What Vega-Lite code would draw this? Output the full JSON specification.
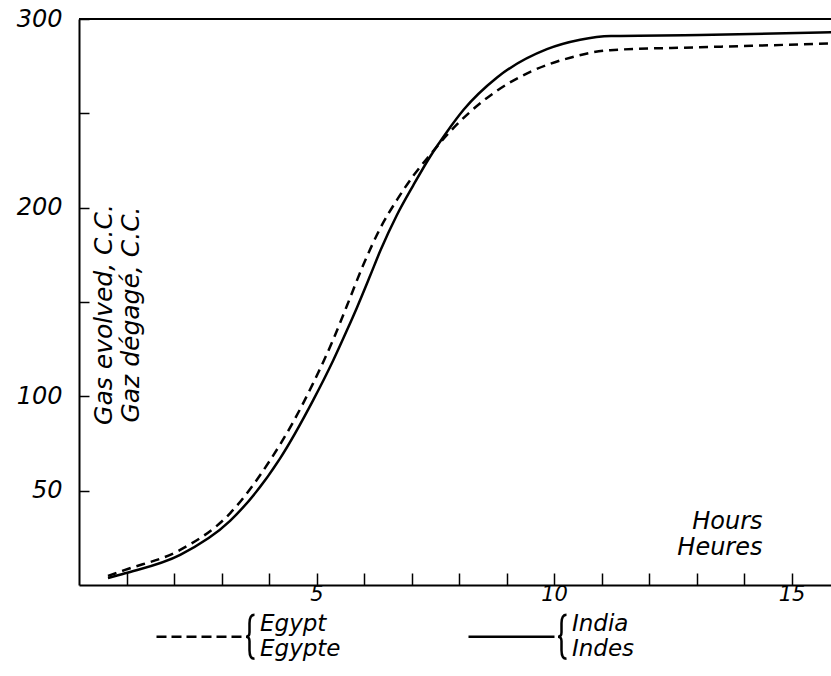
{
  "$schema": "https://vega.github.io/schema/vega-lite/v6.json",
  "autosize": {"type": "none"},
  "padding": {"left": 79, "top": 19, "right": 0, "bottom": 91},
  "width": 752,
  "height": 566,
  "background": "white",
  "config": {
    "view": {"stroke": null},
    "font": "DejaVu Sans",
    "axis": {"grid": false, "domainColor": "black", "tickColor": "black", "labelColor": "black", "titleColor": "black", "domainWidth": 2, "tickWidth": 1.5, "labelFontStyle": "italic", "titleFontStyle": "italic", "titleFontWeight": "normal", "labelFont": "DejaVu Sans", "titleFont": "DejaVu Sans"}
  },
  "data": {
    "values": [
      {"country": "India", "hours": 0.61, "gas": 3.7},
      {"country": "India", "hours": 0.97, "gas": 6.2},
      {"country": "India", "hours": 2.13, "gas": 16},
      {"country": "India", "hours": 3.18, "gas": 34},
      {"country": "India", "hours": 4.23, "gas": 67},
      {"country": "India", "hours": 4.93, "gas": 98},
      {"country": "India", "hours": 5.35, "gas": 119},
      {"country": "India", "hours": 5.64, "gas": 135},
      {"country": "India", "hours": 5.85, "gas": 147},
      {"country": "India", "hours": 6.13, "gas": 164},
      {"country": "India", "hours": 6.34, "gas": 177},
      {"country": "India", "hours": 6.69, "gas": 196},
      {"country": "India", "hours": 7.04, "gas": 212},
      {"country": "India", "hours": 7.39, "gas": 227},
      {"country": "India", "hours": 7.74, "gas": 240},
      {"country": "India", "hours": 8.1, "gas": 252},
      {"country": "India", "hours": 8.8, "gas": 269},
      {"country": "India", "hours": 9.85, "gas": 284},
      {"country": "India", "hours": 10.55, "gas": 289},
      {"country": "India", "hours": 11.2, "gas": 291},
      {"country": "India", "hours": 13.07, "gas": 291.5},
      {"country": "India", "hours": 15.83, "gas": 293},
      {"country": "Egypt", "hours": 0.61, "gas": 4.8},
      {"country": "Egypt", "hours": 0.97, "gas": 8},
      {"country": "Egypt", "hours": 2.13, "gas": 18.6},
      {"country": "Egypt", "hours": 3.18, "gas": 38},
      {"country": "Egypt", "hours": 4.02, "gas": 66},
      {"country": "Egypt", "hours": 4.5, "gas": 86},
      {"country": "Egypt", "hours": 4.93, "gas": 107},
      {"country": "Egypt", "hours": 5.35, "gas": 130},
      {"country": "Egypt", "hours": 5.64, "gas": 148},
      {"country": "Egypt", "hours": 5.99, "gas": 170},
      {"country": "Egypt", "hours": 6.34, "gas": 189},
      {"country": "Egypt", "hours": 6.69, "gas": 204},
      {"country": "Egypt", "hours": 7.04, "gas": 217},
      {"country": "Egypt", "hours": 7.39, "gas": 228},
      {"country": "Egypt", "hours": 7.8, "gas": 240},
      {"country": "Egypt", "hours": 8.2, "gas": 250},
      {"country": "Egypt", "hours": 8.8, "gas": 262},
      {"country": "Egypt", "hours": 9.5, "gas": 272},
      {"country": "Egypt", "hours": 10.34, "gas": 279.5},
      {"country": "Egypt", "hours": 11.18, "gas": 283.5},
      {"country": "Egypt", "hours": 13.07, "gas": 285},
      {"country": "Egypt", "hours": 15.83, "gas": 287}
    ]
  },
  "layer": [
    {
      "mark": {"type": "rule", "stroke": "black", "strokeWidth": 2},
      "encoding": {"y": {"datum": 300, "type": "quantitative"}}
    },
    {
      "transform": [{"filter": "datum.country == 'Egypt'"}],
      "mark": {"type": "line", "stroke": "black", "strokeWidth": 2.5, "strokeDash": [9, 6], "interpolate": "monotone", "clip": true},
      "encoding": {
        "x": {
          "field": "hours", "type": "quantitative",
          "scale": {"domain": [0, 15.83], "nice": false, "zero": false},
          "axis": {
            "values": [1, 2, 3, 4, 5, 6, 7, 8, 9, 10, 11, 12, 13, 14, 15],
            "labelExpr": "datum.value % 5 == 0 ? datum.label : ''",
            "tickSize": -12,
            "labelPadding": 10,
            "labelFontSize": 21,
            "labelFlush": false,
            "title": ["Hours", "Heures"],
            "titleFontSize": 24,
            "titleAlign": "right",
            "titleBaseline": "bottom",
            "titleAnchor": null,
            "titleX": 683,
            "titleY": -52,
            "titleLineHeight": 26
          }
        },
        "y": {
          "field": "gas", "type": "quantitative",
          "scale": {"domain": [0, 300], "nice": false},
          "axis": {
            "values": [50, 100, 150, 200, 250, 300],
            "labelExpr": "datum.value == 150 || datum.value == 250 ? '' : datum.label",
            "tickSize": -10,
            "labelPadding": 27,
            "labelFontSize": 24,
            "labelFlush": false,
            "title": ["Gas evolved, C.C.", "Gaz dégagé, C.C."],
            "titleFontSize": 25,
            "titleAngle": 270,
            "titleAlign": "center",
            "titleBaseline": "middle",
            "titleAnchor": null,
            "titleX": 24,
            "titleY": 295,
            "titleLineHeight": 27
          }
        }
      }
    },
    {
      "transform": [{"filter": "datum.country == 'India'"}],
      "mark": {"type": "line", "stroke": "black", "strokeWidth": 2.5, "interpolate": "monotone", "clip": true},
      "encoding": {
        "x": {"field": "hours", "type": "quantitative"},
        "y": {"field": "gas", "type": "quantitative"}
      }
    },
    {
      "mark": {"type": "point", "filled": false, "strokeOpacity": 0, "fillOpacity": 0},
      "encoding": {
        "x": {"field": "hours", "type": "quantitative"},
        "y": {"field": "gas", "type": "quantitative"},
        "shape": {
          "field": "country", "type": "nominal",
          "scale": {
            "domain": ["Egypt", "India"],
            "range": [
              "M-1,0H-0.8M-0.7,0H-0.5M-0.4,0H-0.2M-0.1,0H0.1M0.2,0H0.4M0.5,0H0.7M0.96,-0.44Q0.86,-0.44 0.86,-0.27L0.86,-0.09Q0.86,0 0.79,0Q0.86,0 0.86,0.09L0.86,0.27Q0.86,0.44 0.96,0.44",
              "M-1,0H0.72M0.96,-0.44Q0.86,-0.44 0.86,-0.27L0.86,-0.09Q0.86,0 0.79,0Q0.86,0 0.86,0.09L0.86,0.27Q0.86,0.44 0.96,0.44"
            ]
          },
          "legend": {
            "title": null,
            "orient": "none",
            "legendX": 76,
            "legendY": 566,
            "direction": "horizontal",
            "padding": 0,
            "symbolSize": 10000,
            "symbolStrokeColor": "black",
            "symbolFillColor": "transparent",
            "symbolStrokeWidth": 2.5,
            "symbolOpacity": 1,
            "labelFontSize": 23,
            "labelFontStyle": "italic",
            "labelFont": "DejaVu Sans",
            "labelColor": "black",
            "labelOffset": 2,
            "labelBaseline": "line-bottom",
            "labelLimit": 300,
            "labelExpr": "datum.label == 'Egypt' ? ['Egypt', 'Egypte'] : ['India', 'Indes']",
            "columnPadding": 122,
            "encode": {
              "symbols": {"update": {"strokeOpacity": {"value": 1}, "opacity": {"value": 1}, "fillOpacity": {"value": 0}, "stroke": {"value": "black"}}}
            }
          }
        }
      }
    }
  ]
}
